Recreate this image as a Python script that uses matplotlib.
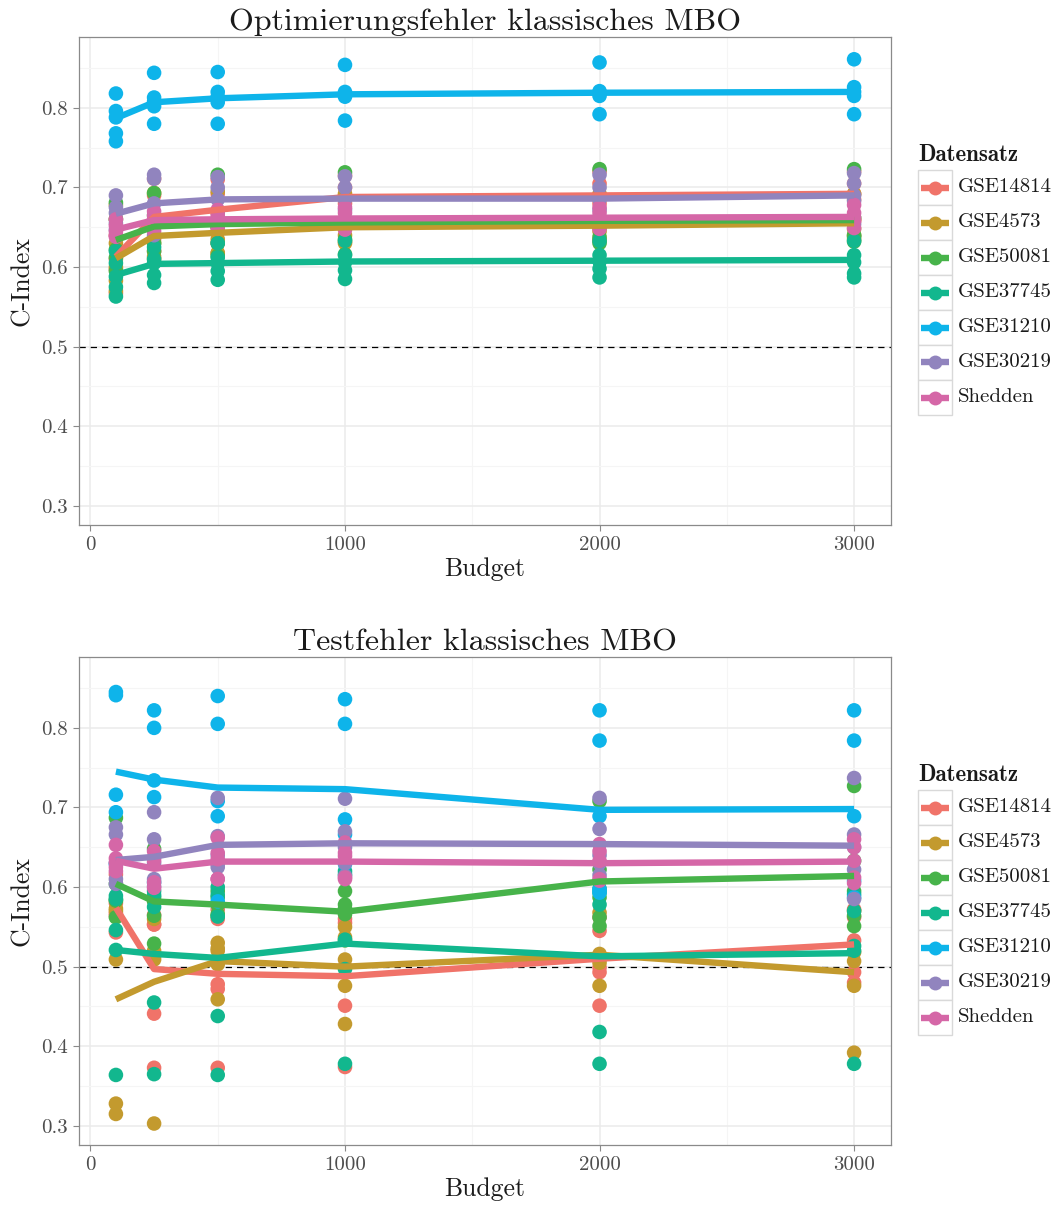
import matplotlib
matplotlib.use("Agg")
import matplotlib.pyplot as plt
from matplotlib.lines import Line2D
from matplotlib.patches import Rectangle
import numpy as np

plt.rcParams['font.family'] = ['cmr10', 'DejaVu Serif']
plt.rcParams['axes.unicode_minus'] = False
plt.rcParams['axes.formatter.use_mathtext'] = True

budgets = [100, 250, 500, 1000, 2000, 3000]
datasets = ["GSE14814", "GSE4573", "GSE50081", "GSE37745", "GSE31210", "GSE30219", "Shedden"]
colors = ["#F07369", "#C39A2E", "#47B34A", "#12B78E", "#0EB4EA", "#9184BE", "#D567A7"]

# ---------- Optimierungsfehler (top) : points per budget (5 runs) ----------
opt_GSE14814 = [[0.660, 0.640, 0.610, 0.597, 0.567], [0.711, 0.690, 0.660, 0.635, 0.620],
                [0.710, 0.692, 0.668, 0.660, 0.630], [0.715, 0.700, 0.690, 0.680, 0.655],
                [0.720, 0.705, 0.690, 0.680, 0.655], [0.720, 0.705, 0.692, 0.685, 0.658]]
opt_GSE4573 = [[0.678, 0.630, 0.600, 0.583, 0.570], [0.693, 0.650, 0.630, 0.613, 0.610],
               [0.695, 0.650, 0.635, 0.618, 0.617], [0.692, 0.655, 0.640, 0.632, 0.630],
               [0.692, 0.655, 0.645, 0.635, 0.633], [0.692, 0.660, 0.648, 0.640, 0.635]]
opt_GSE50081 = [[0.681, 0.660, 0.622, 0.612, 0.595], [0.693, 0.665, 0.650, 0.630, 0.620],
                [0.716, 0.660, 0.650, 0.630, 0.614], [0.719, 0.660, 0.650, 0.635, 0.616],
                [0.723, 0.660, 0.650, 0.638, 0.630], [0.723, 0.662, 0.640, 0.638, 0.632]]
opt_GSE37745 = [[0.620, 0.605, 0.588, 0.575, 0.563], [0.625, 0.610, 0.605, 0.590, 0.580],
                [0.630, 0.612, 0.605, 0.595, 0.584], [0.633, 0.615, 0.606, 0.596, 0.585],
                [0.633, 0.615, 0.607, 0.598, 0.587], [0.633, 0.615, 0.606, 0.592, 0.587]]
opt_GSE31210 = [[0.818, 0.796, 0.788, 0.768, 0.758], [0.844, 0.813, 0.808, 0.802, 0.780],
                [0.845, 0.820, 0.814, 0.807, 0.780], [0.854, 0.820, 0.816, 0.814, 0.784],
                [0.857, 0.821, 0.818, 0.815, 0.792], [0.861, 0.826, 0.820, 0.815, 0.792]]
opt_GSE30219 = [[0.690, 0.675, 0.668, 0.655, 0.647], [0.716, 0.711, 0.680, 0.655, 0.640],
                [0.713, 0.700, 0.685, 0.670, 0.657], [0.714, 0.700, 0.685, 0.672, 0.659],
                [0.716, 0.700, 0.685, 0.672, 0.657], [0.718, 0.705, 0.690, 0.683, 0.654]]
opt_Shedden = [[0.660, 0.652, 0.645, 0.638, 0.640], [0.670, 0.665, 0.660, 0.655, 0.645],
               [0.672, 0.665, 0.660, 0.655, 0.648], [0.675, 0.668, 0.660, 0.655, 0.647],
               [0.675, 0.668, 0.662, 0.657, 0.648], [0.678, 0.668, 0.662, 0.658, 0.649]]

# mean lines (top)
optm_GSE14814 = [0.613, 0.663, 0.672, 0.688, 0.690, 0.692]
optm_GSE4573 = [0.611, 0.639, 0.643, 0.650, 0.652, 0.655]
optm_GSE50081 = [0.634, 0.651, 0.654, 0.656, 0.658, 0.659]
optm_GSE37745 = [0.590, 0.604, 0.605, 0.607, 0.608, 0.609]
optm_GSE31210 = [0.787, 0.807, 0.812, 0.817, 0.819, 0.820]
optm_GSE30219 = [0.667, 0.680, 0.685, 0.686, 0.686, 0.690]
optm_Shedden = [0.647, 0.659, 0.660, 0.661, 0.662, 0.663]

# ---------- Testfehler (bottom) ----------
test_GSE14814 = [[0.616, 0.580, 0.567, 0.564, 0.543], [0.565, 0.553, 0.553, 0.441, 0.373],
                 [0.572, 0.560, 0.478, 0.472, 0.373], [0.560, 0.555, 0.500, 0.451, 0.374],
                 [0.562, 0.545, 0.499, 0.493, 0.451], [0.572, 0.562, 0.533, 0.493, 0.480]]
test_GSE4573 = [[0.573, 0.570, 0.509, 0.328, 0.315], [0.560, 0.520, 0.513, 0.509, 0.303],
                [0.530, 0.523, 0.520, 0.503, 0.459], [0.550, 0.537, 0.509, 0.476, 0.428],
                [0.568, 0.516, 0.510, 0.505, 0.476], [0.570, 0.518, 0.507, 0.476, 0.392]]
test_GSE50081 = [[0.687, 0.604, 0.584, 0.583, 0.562], [0.648, 0.587, 0.582, 0.564, 0.529],
                 [0.595, 0.587, 0.578, 0.566, 0.564], [0.595, 0.578, 0.573, 0.566, 0.533],
                 [0.708, 0.622, 0.587, 0.562, 0.551], [0.727, 0.633, 0.595, 0.564, 0.551]]
test_GSE37745 = [[0.589, 0.585, 0.546, 0.521, 0.364], [0.595, 0.590, 0.575, 0.455, 0.365],
                 [0.600, 0.590, 0.563, 0.438, 0.364], [0.620, 0.616, 0.534, 0.497, 0.378],
                 [0.598, 0.593, 0.578, 0.418, 0.378], [0.591, 0.570, 0.526, 0.520, 0.378]]
test_GSE31210 = [[0.845, 0.841, 0.716, 0.694, 0.629], [0.822, 0.800, 0.734, 0.713, 0.606],
                 [0.840, 0.805, 0.708, 0.689, 0.582], [0.836, 0.805, 0.685, 0.666, 0.629],
                 [0.822, 0.784, 0.689, 0.597, 0.593], [0.822, 0.784, 0.689, 0.608, 0.587]]
test_GSE30219 = [[0.675, 0.666, 0.630, 0.610, 0.604], [0.694, 0.660, 0.630, 0.610, 0.601],
                 [0.712, 0.664, 0.640, 0.629, 0.625], [0.711, 0.670, 0.650, 0.630, 0.614],
                 [0.712, 0.673, 0.640, 0.630, 0.615], [0.737, 0.666, 0.650, 0.622, 0.585]]
test_Shedden = [[0.653, 0.636, 0.631, 0.625, 0.620], [0.645, 0.637, 0.633, 0.606, 0.599],
                [0.662, 0.643, 0.635, 0.610, 0.610], [0.656, 0.643, 0.639, 0.612, 0.610],
                [0.654, 0.645, 0.633, 0.610, 0.608], [0.660, 0.650, 0.633, 0.612, 0.605]]

testm_GSE14814 = [0.574, 0.497, 0.491, 0.488, 0.510, 0.528]
testm_GSE4573 = [0.459, 0.481, 0.507, 0.500, 0.515, 0.493]
testm_GSE50081 = [0.604, 0.582, 0.578, 0.569, 0.607, 0.614]
testm_GSE37745 = [0.521, 0.516, 0.511, 0.529, 0.513, 0.517]
testm_GSE31210 = [0.745, 0.735, 0.725, 0.723, 0.697, 0.698]
testm_GSE30219 = [0.634, 0.638, 0.653, 0.655, 0.654, 0.652]
testm_Shedden = [0.633, 0.623, 0.632, 0.632, 0.630, 0.632]

opt_points = [opt_GSE14814, opt_GSE4573, opt_GSE50081, opt_GSE37745, opt_GSE31210, opt_GSE30219, opt_Shedden]
opt_means = [optm_GSE14814, optm_GSE4573, optm_GSE50081, optm_GSE37745, optm_GSE31210, optm_GSE30219, optm_Shedden]
test_points = [test_GSE14814, test_GSE4573, test_GSE50081, test_GSE37745, test_GSE31210, test_GSE30219, test_Shedden]
test_means = [testm_GSE14814, testm_GSE4573, testm_GSE50081, testm_GSE37745, testm_GSE31210, testm_GSE30219, testm_Shedden]

W, H = 1059, 1207
fig = plt.figure(figsize=(W / 100, H / 100), dpi=100)

def px_rect(l, t, r, b):
    return [l / W, 1 - b / H, (r - l) / W, (b - t) / H]

def draw_panel(rect, points, means, title):
    ax = fig.add_axes(rect)
    ax.set_xlim(-45, 3145)
    ax.set_ylim(0.276, 0.889)
    ax.set_xticks([0, 1000, 2000, 3000])
    ax.set_xticks([500, 1500, 2500], minor=True)
    ax.set_yticks([0.3, 0.4, 0.5, 0.6, 0.7, 0.8])
    ax.set_yticklabels(["0.3", "0.4", "0.5", "0.6", "0.7", "0.8"])
    ax.set_yticks([0.35, 0.45, 0.55, 0.65, 0.75, 0.85], minor=True)
    ax.set_xticklabels(["0", "1000", "2000", "3000"])
    ax.grid(which='major', color='#EBEBEB', lw=1.1, zorder=0)
    ax.grid(which='minor', color='#F5F5F5', lw=0.8, zorder=0)
    ax.set_axisbelow(True)
    for s in ax.spines.values():
        s.set_color('#8A8A8A')
        s.set_linewidth(0.9)
    ax.tick_params(which='major', length=4, width=0.8, color='#8A8A8A',
                   labelsize=15, labelcolor='#4D4D4D', pad=4)
    ax.tick_params(which='minor', length=0)
    ax.axhline(0.5, color='black', lw=0.9, ls=(0, (5, 4)), zorder=1)
    for pts, col in zip(points, colors):
        xs = np.repeat(budgets, [len(p) for p in pts])
        ys = np.concatenate(pts)
        ax.scatter(xs, ys, s=110, color=col, edgecolors='none', zorder=2)
    for m, col in zip(means, colors):
        ax.plot(budgets, m, color=col, lw=4.6, solid_capstyle='butt',
                solid_joinstyle='round', zorder=3)
    ax.set_title(title, fontsize=23, color='#1A1A1A', pad=5)
    ax.set_xlabel("Budget", fontsize=18.5, color='#1A1A1A', labelpad=2)
    ax.set_ylabel("C-Index", fontsize=18.5, color='#1A1A1A', labelpad=5)
    return ax

draw_panel(px_rect(79, 37, 891, 525), opt_points, opt_means, "Optimierungsfehler klassisches MBO")
draw_panel(px_rect(79, 657, 891, 1145), test_points, test_means, "Testfehler klassisches MBO")

def draw_legend(y0):
    fig.text(918 / W, 1 - (y0 - 15) / H, "Datensatz", fontsize=16.5, family=['cmb10', 'DejaVu Serif'],
             fontweight='bold', color='#1A1A1A', ha='left', va='center')
    kh = 35
    for i, (name, col) in enumerate(zip(datasets, colors)):
        top = y0 + i * kh
        fig.add_artist(Rectangle((918 / W, 1 - (top + kh) / H), 34 / W, kh / H,
                                 transform=fig.transFigure, facecolor='white',
                                 edgecolor='#D9D9D9', lw=1.0))
        yc = 1 - (top + kh / 2) / H
        fig.add_artist(Line2D([921 / W, 949 / W], [yc, yc], transform=fig.transFigure,
                              color=col, lw=4.6, solid_capstyle='butt'))
        fig.add_artist(Line2D([935 / W], [yc], transform=fig.transFigure, marker='o',
                              markersize=10, color=col, markeredgewidth=0, linestyle='none'))
        fig.text(958 / W, yc, name, fontsize=15, color='#1A1A1A', ha='left', va='center')

draw_legend(170)
draw_legend(790)

fig.savefig("out.png", dpi=100)
